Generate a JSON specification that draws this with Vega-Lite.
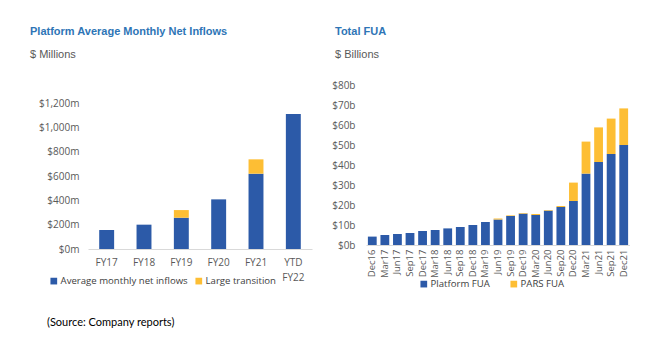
{
  "$schema": "https://vega.github.io/schema/vega-lite/v6.json",
  "padding": {"left": 30, "top": 26, "right": 0, "bottom": 0},
  "bounds": "flush",
  "spacing": 54,
  "background": "white",
  "title": {"text": "(Source: Company reports)", "orient": "bottom", "anchor": "start", "frame": "bounds", "font": "Lato", "fontSize": 11, "fontWeight": "normal", "color": "#000000", "offset": 28, "dx": 17},
  "config": {
    "view": {"stroke": null},
    "axis": {"grid": false, "ticks": false, "labelColor": "#595959", "labelFont": "Open Sans", "labelFontSize": 10, "domainColor": "#D9D9D9", "title": null},
    "axisY": {"domain": false},
    "legend": {"labelFont": "Open Sans", "labelFontSize": 9.6, "labelColor": "#404040", "symbolType": "square", "symbolSize": 45, "symbolStrokeWidth": 0, "labelOffset": 2, "title": null, "orient": "none", "direction": "horizontal"},
    "title": {"font": "Liberation Sans", "fontSize": 11, "fontWeight": "bold", "color": "#2E75B6", "subtitleFont": "Liberation Sans", "subtitleFontSize": 11, "subtitleColor": "#595959", "subtitlePadding": 12, "anchor": "start", "frame": "group", "offset": 20}
  },
  "datasets": {
    "inflows": [
      {"year": "FY17", "series": "Average monthly net inflows", "value": 156},
      {"year": "FY18", "series": "Average monthly net inflows", "value": 200},
      {"year": "FY19", "series": "Average monthly net inflows", "value": 257},
      {"year": "FY19", "series": "Large transition", "value": 63},
      {"year": "FY20", "series": "Average monthly net inflows", "value": 408},
      {"year": "FY21", "series": "Average monthly net inflows", "value": 619},
      {"year": "FY21", "series": "Large transition", "value": 118},
      {"year": "YTD FY22", "series": "Average monthly net inflows", "value": 1110}
    ],
    "fua": [
      {"period": "Dec16", "series": "Platform FUA", "value": 4.2},
      {"period": "Mar17", "series": "Platform FUA", "value": 5.0},
      {"period": "Jun17", "series": "Platform FUA", "value": 5.5},
      {"period": "Sep17", "series": "Platform FUA", "value": 6.0},
      {"period": "Dec17", "series": "Platform FUA", "value": 7.0},
      {"period": "Mar18", "series": "Platform FUA", "value": 7.5},
      {"period": "Jun18", "series": "Platform FUA", "value": 8.3},
      {"period": "Sep18", "series": "Platform FUA", "value": 9.0},
      {"period": "Dec18", "series": "Platform FUA", "value": 10.0},
      {"period": "Mar19", "series": "Platform FUA", "value": 11.5},
      {"period": "Jun19", "series": "Platform FUA", "value": 12.8},
      {"period": "Jun19", "series": "PARS FUA", "value": 0.4},
      {"period": "Sep19", "series": "Platform FUA", "value": 14.5},
      {"period": "Sep19", "series": "PARS FUA", "value": 0.3},
      {"period": "Dec19", "series": "Platform FUA", "value": 15.7},
      {"period": "Dec19", "series": "PARS FUA", "value": 0.3},
      {"period": "Mar20", "series": "Platform FUA", "value": 15.0},
      {"period": "Mar20", "series": "PARS FUA", "value": 0.5},
      {"period": "Jun20", "series": "Platform FUA", "value": 17.2},
      {"period": "Jun20", "series": "PARS FUA", "value": 0.3},
      {"period": "Sep20", "series": "Platform FUA", "value": 19.0},
      {"period": "Sep20", "series": "PARS FUA", "value": 0.5},
      {"period": "Dec20", "series": "Platform FUA", "value": 22.0},
      {"period": "Dec20", "series": "PARS FUA", "value": 9.2},
      {"period": "Mar21", "series": "Platform FUA", "value": 35.7},
      {"period": "Mar21", "series": "PARS FUA", "value": 16.0},
      {"period": "Jun21", "series": "Platform FUA", "value": 41.5},
      {"period": "Jun21", "series": "PARS FUA", "value": 17.3},
      {"period": "Sep21", "series": "Platform FUA", "value": 45.5},
      {"period": "Sep21", "series": "PARS FUA", "value": 17.7},
      {"period": "Dec21", "series": "Platform FUA", "value": 50.0},
      {"period": "Dec21", "series": "PARS FUA", "value": 18.3}
    ]
  },
  "resolve": {"scale": {"color": "independent"}, "legend": {"color": "independent"}},
  "hconcat": [
    {
      "width": 224,
      "height": 164,
      "title": {"text": "Platform Average Monthly Net Inflows", "subtitle": "$ Millions", "dx": -58, "offset": 25},
      "data": {"name": "inflows"},
      "mark": {"type": "bar"},
      "encoding": {
        "x": {"field": "year", "type": "nominal", "sort": null,
              "scale": {"paddingInner": 0.6, "paddingOuter": 0.3},
              "axis": {"labelAngle": 0, "labelPadding": 8, "labelBaseline": "top", "labelLineHeight": 15,
                       "labelExpr": "datum.label == 'YTD FY22' ? ['YTD', 'FY22'] : datum.label"}},
        "y": {"field": "value", "type": "quantitative", "stack": "zero",
              "scale": {"domain": [0, 1348], "nice": false, "zero": true},
              "axis": {"values": [0, 200, 400, 600, 800, 1000, 1200], "labelPadding": 9,
                       "labelExpr": "'$' + format(datum.value, ',') + 'm'"}},
        "color": {"field": "series", "type": "nominal",
                  "scale": {"domain": ["Average monthly net inflows", "Large transition"], "range": ["#2C5AA8", "#FDBE34"]},
                  "legend": {"legendX": -39, "legendY": 191, "columnPadding": 6}},
        "order": {"field": "series", "sort": "ascending"}
      }
    },
    {
      "width": 264,
      "height": 160,
      "title": {"text": "Total FUA", "subtitle": "$ Billions", "dx": -31},
      "data": {"name": "fua"},
      "mark": {"type": "bar"},
      "encoding": {
        "x": {"field": "period", "type": "nominal", "sort": null,
              "scale": {"paddingInner": 0.3, "paddingOuter": 0.15},
              "axis": {"labelAngle": -90, "labelPadding": 4, "labelFontSize": 9.5}},
        "y": {"field": "value", "type": "quantitative", "stack": "zero",
              "scale": {"domain": [0, 80], "nice": false},
              "axis": {"values": [0, 10, 20, 30, 40, 50, 60, 70, 80], "labelPadding": 11,
                       "labelExpr": "'$' + datum.value + 'b'"}},
        "color": {"field": "series", "type": "nominal",
                  "scale": {"domain": ["Platform FUA", "PARS FUA"], "range": ["#2C5AA8", "#FDBE34"]},
                  "legend": {"legendX": 53, "legendY": 194, "columnPadding": 19}},
        "order": {"field": "series", "sort": "descending"}
      }
    }
  ]
}
